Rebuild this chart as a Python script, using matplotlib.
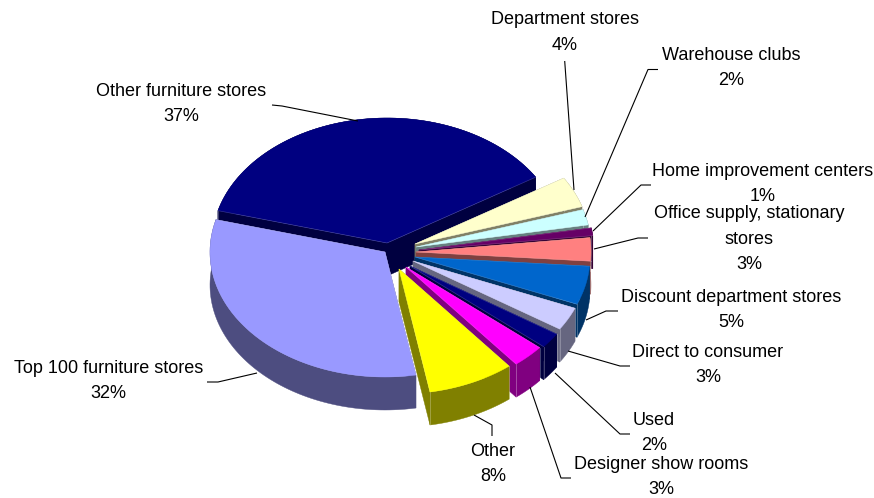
import numpy as np
import matplotlib
matplotlib.use('Agg')
import matplotlib.pyplot as plt

plt.rcParams['font.family'] = ['Liberation Sans', 'DejaVu Sans']

# Slice names and shares, clockwise from the start angle
categories = ['Other furniture stores', 'Department stores', 'Warehouse clubs',
              'Home improvement centers', 'Office supply, stationary\nstores',
              'Discount department stores', 'Direct to consumer', 'Used',
              'Designer show rooms', 'Other', 'Top 100 furniture stores']
shares = [37, 4, 2, 1, 3, 5, 3, 2, 3, 8, 32]
top_colors = ['#000080', '#FFFFCC', '#CCFFFF', '#660066', '#FF8080', '#0066CC',
              '#CCCCFF', '#000080', '#FF00FF', '#FFFF00', '#9999FF']

# Pie geometry, in figure pixels
START_ANGLE = 165.0
RX, RY = 175.0, 125.0
DEPTH = 33.0
apexes = [(387, 243), (415, 244), (416, 247), (419, 250), (416, 252), (415, 257),
          (413, 261), (410, 266), (406, 267), (399, 269), (385, 252)]

# Label centres and leader lines
label_centers = [(181, 104), (565, 32.5), (731, 68), (762.5, 184), (749, 239),
                 (731, 310), (708, 365), (654, 433), (661, 477), (493, 464),
                 (108.5, 381)]
leaders = [[(272, 105), (282, 106), (358, 121)],
           [(564.7, 61), (574, 190)],
           [(658, 69.5), (648, 69.5), (585, 217)],
           [(651, 185), (641, 185), (593, 231)],
           [(648, 238), (638, 238), (594, 249)],
           [(618, 311), (606, 311), (586, 320)],
           [(630, 366), (620, 366), (568, 351)],
           [(630, 434), (620, 434), (555, 373)],
           [(571, 478), (561, 478), (530, 387)],
           [(492, 436), (492, 425), (474, 415)],
           [(207, 382), (218, 382), (257, 373)]]


def darker(color):
    r, g, b = matplotlib.colors.to_rgb(color)
    return (r / 2, g / 2, b / 2)


def rim(apex, a0, a1):
    t = np.radians(np.linspace(a0, a1, 80))
    return apex[0] + RX * np.cos(t), apex[1] - RY * np.sin(t)


fig = plt.figure(figsize=(8.74, 4.98), dpi=100)
ax = fig.add_axes([0, 0, 1, 1])
ax.set_xlim(0, 874)
ax.set_ylim(498, 0)
ax.axis('off')

# Turn shares into clockwise angle spans
edges = START_ANGLE - np.cumsum([0] + shares) * 3.6
spans = list(zip(edges[:-1], edges[1:]))

# Back slices first so the front ones cover them
order = sorted(range(len(shares)), key=lambda i: -np.sin(np.radians(sum(spans[i]) / 2)))
for rank, i in enumerate(order):
    a0, a1 = spans[i]
    apex = apexes[i]
    x, y = rim(apex, a0, a1)
    wall = darker(top_colors[i])
    z = 1 + rank

    # Outer wall and the two cut faces, each wall corner with a thin highlight
    ax.fill(np.r_[x, x[::-1]], np.r_[y, y[::-1] + DEPTH], color=wall, lw=0.3, zorder=z)
    for ex, ey in [(x[0], y[0]), (x[-1], y[-1])]:
        ax.fill([apex[0], ex, ex, apex[0]], [apex[1], ey, ey + DEPTH, apex[1] + DEPTH],
                color=wall, lw=0.3, zorder=z)
        ax.plot([ex, ex], [ey, ey + DEPTH], color='white', alpha=0.3, lw=0.6, zorder=z + 0.1)

    # Top face with a faint highlight along its cut edges
    ax.fill(np.r_[apex[0], x], np.r_[apex[1], y], color=top_colors[i], lw=0.3, zorder=z + 0.2)
    ax.plot([x[0], apex[0], x[-1]], [y[0], apex[1], y[-1]], color='white', alpha=0.2, lw=0.5,
            zorder=z + 0.3)

for pts in leaders:
    px, py = zip(*pts)
    ax.plot(px, py, color='black', lw=0.8, solid_capstyle='butt', zorder=30)

for name, share, (cx, cy) in zip(categories, shares, label_centers):
    ax.text(cx, cy, f'{name}\n{share}%', ha='center', va='center', ma='center',
            fontsize=13, linespacing=1.62, color='black', zorder=31)

fig.savefig('out.png', dpi=100)
plt.close(fig)
